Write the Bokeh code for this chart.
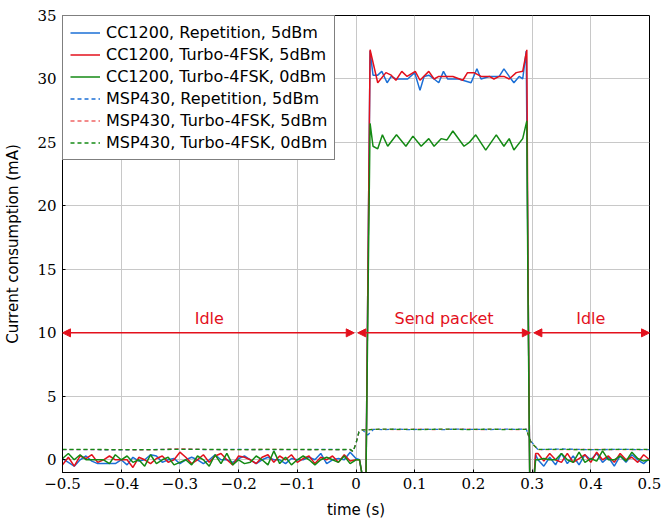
from bokeh.plotting import figure
from bokeh.models import (Range1d, FixedTicker, Legend, LegendItem, Arrow, NormalHead,
                          ColumnDataSource)
from bokeh.core.properties import value
from bokeh.embed import file_html
from bokeh.resources import INLINE

# ---------------- data ----------------
# idle time grids
t_idle_left = [-0.50, -0.49, -0.48, -0.47, -0.46, -0.45, -0.44, -0.43, -0.42, -0.41,
               -0.40, -0.39, -0.38, -0.37, -0.36, -0.35, -0.34, -0.33, -0.32, -0.31,
               -0.30, -0.29, -0.28, -0.27, -0.26, -0.25, -0.24, -0.23, -0.22, -0.21,
               -0.20, -0.19, -0.18, -0.17, -0.16, -0.15, -0.14, -0.13, -0.12, -0.11,
               -0.10, -0.09, -0.08, -0.07, -0.06, -0.05, -0.04, -0.03, -0.02, -0.01,
               0.00]
t_idle_right = [0.31, 0.32, 0.33, 0.34, 0.35, 0.36, 0.37, 0.38, 0.39, 0.40,
                0.41, 0.42, 0.43, 0.44, 0.45, 0.46, 0.47, 0.48, 0.49, 0.50]
t_rise = [0.006, 0.012, 0.017, 0.021]
t_fall = [0.293, 0.296, 0.303, 0.306]

# CC1200, Repetition, 5dBm (blue)
blue_idle_left = [0.1, -0.2, -0.5, 0.0, 0.3, -0.1, -0.3, -0.3, -0.3, -0.3,
                  0.0, -0.4, 0.2, -0.1, 0.0, 0.4, 0.3, -0.2, 0.0, 0.1,
                  -0.3, 0.0, 0.2, 0.0, -0.3, 0.0, 0.4, 0.0, 0.0, -0.2,
                  0.1, 0.3, 0.0, -0.3, 0.0, 0.2, 0.0, 0.0, -0.3, 0.1,
                  0.0, 0.0, 0.2, 0.0, 0.5, -0.3, 0.0, 0.1, 0.0, 0.6,
                  0.1]
blue_rise = [0.0, -1.6, -1.6, 18.0]
blue_top_t = [0.024, 0.029, 0.037, 0.044, 0.053, 0.060, 0.068, 0.088, 0.100, 0.109,
              0.116, 0.124, 0.133, 0.141, 0.149, 0.156, 0.175, 0.196, 0.206, 0.213,
              0.227, 0.244, 0.252, 0.261, 0.269, 0.278, 0.284, 0.290]
blue_top = [32.2, 30.3, 30.3, 30.6, 29.7, 30.2, 30.0, 30.0, 30.5, 29.1,
            30.2, 30.3, 30.0, 29.7, 30.6, 30.0, 30.0, 29.7, 30.8, 30.0,
            30.2, 30.2, 30.8, 30.2, 29.7, 30.2, 30.0, 32.2]
blue_fall = [15.0, -1.6, -1.6, 0.4]
blue_idle_right = [0.0, -0.5, 0.2, -0.4, 0.5, -0.3, 0.3, -0.4, 0.4, 0.0,
                   0.5, -0.2, 0.2, -0.5, 0.3, -0.2, 0.4, 0.0, -0.3, 0.1]

# CC1200, Turbo-4FSK, 5dBm (red)
red_idle_left = [-0.4, 0.2, -0.5, 0.3, 0.1, 0.4, -0.2, 0.0, 0.3, 0.0,
                 0.0, 0.0, -0.6, 0.2, 0.0, -0.3, 0.1, 0.3, -0.2, 0.0,
                 0.6, 0.2, -0.3, 0.0, 0.4, -0.2, 0.3, 0.5, 0.0, -0.4,
                 0.3, 0.2, 0.0, -0.3, 0.2, 0.4, -0.2, 0.3, 0.0, 0.4,
                 -0.2, 0.1, 0.3, -0.3, 0.2, 0.0, 0.3, -0.2, 0.4, -0.1,
                 0.0]
red_rise = [0.0, -1.6, -1.6, 18.0]
red_top_t = [0.024, 0.037, 0.051, 0.060, 0.068, 0.078, 0.087, 0.101, 0.109, 0.124,
             0.133, 0.141, 0.165, 0.182, 0.190, 0.201, 0.213, 0.227, 0.235, 0.244,
             0.252, 0.261, 0.273, 0.284, 0.291]
red_top = [32.3, 29.7, 30.5, 30.3, 29.9, 30.6, 30.2, 30.6, 29.9, 30.6,
           30.0, 30.2, 30.2, 29.9, 30.5, 30.5, 30.2, 30.2, 30.0, 30.2,
           30.2, 30.0, 30.5, 30.6, 32.3]
red_fall = [15.0, -1.6, -1.6, 0.5]
red_idle_right = [0.5, -0.1, 0.5, 0.0, -0.2, 0.5, -0.2, 0.1, 0.4, -0.2,
                  0.6, 0.0, 0.3, -0.2, 0.5, 0.0, 0.2, -0.2, 0.4, 0.0]

# CC1200, Turbo-4FSK, 0dBm (green)
green_idle_left = [0.1, 0.5, 0.0, 0.4, 0.0, 0.0, 0.0, 0.0, -0.3, 0.4,
                   0.0, 0.3, -0.2, 0.0, -0.5, 0.4, -0.3, 0.0, 0.2, -0.4,
                   -0.2, 0.0, -0.4, 0.3, 0.0, -0.5, 0.4, -0.3, 0.5, -0.4,
                   0.0, -0.3, -0.2, 0.3, 0.0, -0.4, 0.7, -0.3, 0.2, -0.4,
                   0.0, 0.3, 0.0, -0.4, 0.0, 0.2, 0.0, -0.2, 0.3, -0.3,
                   0.0]
green_rise = [0.0, -1.6, -1.6, 15.0]
green_top_t = [0.024, 0.029, 0.037, 0.045, 0.054, 0.069, 0.085, 0.097, 0.111, 0.124,
               0.133, 0.145, 0.155, 0.165, 0.184, 0.193, 0.204, 0.221, 0.239, 0.252,
               0.261, 0.269, 0.284, 0.291]
green_top = [26.5, 24.7, 24.5, 25.6, 24.7, 25.6, 24.7, 25.5, 24.7, 25.3,
             24.7, 25.3, 25.2, 25.9, 24.7, 25.0, 25.6, 24.4, 25.6, 24.7,
             25.3, 24.4, 25.3, 26.7]
green_fall = [13.0, -1.6, -1.6, 0.0]
green_idle_right = [0.0, 0.1, 0.0, 0.0, 0.5, 0.0, -0.2, 0.6, -0.2, 0.1,
                    -0.1, 0.7, 0.0, 0.0, 0.3, -0.1, 0.6, 0.1, -0.1, 0.0]

# MSP430 series (dashed)
t_msp = [-0.50, -0.45, -0.40, -0.35, -0.30, -0.25, -0.20, -0.15, -0.10, -0.05,
         -0.01, -0.005, 0.0, 0.005, 0.011, 0.02, 0.03, 0.05, 0.07, 0.09,
         0.11, 0.13, 0.15, 0.17, 0.19, 0.21, 0.23, 0.25, 0.27, 0.29,
         0.298, 0.303, 0.31, 0.35, 0.40, 0.45, 0.50]
msp_rep_5 = [0.80, 0.80, 0.78, 0.80, 0.85, 0.80, 0.82, 0.80, 0.80, 0.82,
             0.80, 0.65, 1.30, 2.20, 2.36, 1.95, 2.40, 2.38, 2.42, 2.38,
             2.40, 2.40, 2.38, 2.42, 2.40, 2.40, 2.38, 2.42, 2.40, 2.42,
             1.45, 1.20, 0.80, 0.85, 0.80, 0.82, 0.80]
msp_turbo_5 = [0.80, 0.80, 0.80, 0.78, 0.88, 0.80, 0.80, 0.82, 0.80, 0.80,
               0.80, 0.65, 1.30, 2.20, 2.36, 2.38, 2.40, 2.40, 2.38, 2.40,
               2.42, 2.38, 2.40, 2.40, 2.42, 2.38, 2.40, 2.40, 2.38, 2.40,
               1.40, 1.15, 0.80, 0.80, 0.82, 0.80, 0.80]
msp_turbo_0 = [0.82, 0.82, 0.80, 0.80, 0.82, 0.82, 0.80, 0.82, 0.82, 0.80,
               0.82, 0.65, 1.30, 2.20, 2.36, 2.36, 2.40, 2.42, 2.40, 2.40,
               2.38, 2.40, 2.42, 2.40, 2.38, 2.40, 2.42, 2.38, 2.40, 2.40,
               1.40, 1.15, 0.82, 0.82, 0.80, 0.82, 0.82]

# phase annotations
phase_start = [-0.5, 0.003, 0.303]
phase_end = [-0.003, 0.297, 0.5]
phase_level = [10, 10, 10]
phase_label_x = [-0.25, 0.15, 0.40]
phase_labels = ["Idle", "Send packet", "Idle"]

x_ticks = [-0.5, -0.4, -0.3, -0.2, -0.1, 0.0, 0.1, 0.2, 0.3, 0.4, 0.5]
x_tick_labels = ["\u22120.5", "\u22120.4", "\u22120.3", "\u22120.2", "\u22120.1",
                 "0", "0.1", "0.2", "0.3", "0.4", "0.5"]
y_ticks = [0, 5, 10, 15, 20, 25, 30, 35]

# ---------------- figure ----------------
SANS = "DejaVu Sans"
SERIF = "DejaVu Serif"

p = figure(width=662, height=521, output_backend="svg", toolbar_location=None,
           x_range=Range1d(-0.5, 0.5), y_range=Range1d(-1, 35),
           min_border_left=62, min_border_right=13, min_border_top=15, min_border_bottom=49)
p.outline_line_color = "black"
p.outline_line_width = 1
p.background_fill_color = "white"

for ax in (p.xaxis[0], p.yaxis[0]):
    ax.axis_line_color = "black"
    ax.major_tick_line_color = "black"
    ax.major_tick_in = 3
    ax.major_tick_out = 0
    ax.minor_tick_in = 0
    ax.minor_tick_out = 0
    ax.major_label_text_font = SERIF
    ax.major_label_text_font_size = "15px"
    ax.major_label_text_color = "black"
    ax.axis_label_text_font = SANS
    ax.axis_label_text_font_size = "15px"
    ax.axis_label_text_font_style = "normal"
    ax.axis_label_text_color = "black"

p.xaxis.ticker = FixedTicker(ticks=x_ticks)
p.xaxis.major_label_overrides = dict(zip(x_ticks, x_tick_labels))
p.yaxis.ticker = FixedTicker(ticks=y_ticks)
p.xaxis.axis_label = "time (s)"
p.yaxis.axis_label = "Current consumption (mA)"
p.xaxis.major_label_standoff = 5
p.yaxis.major_label_standoff = 6
p.xaxis.axis_label_standoff = 9
p.yaxis.axis_label_standoff = 12

p.xgrid.grid_line_color = "#c8c8c8"
p.ygrid.grid_line_color = "#c8c8c8"
p.xgrid.grid_line_width = 1
p.ygrid.grid_line_width = 1

BLUE = "#1b6fd6"
RED = "#e3101c"
GREEN = "#148a14"

def cat(*parts):
    out = []
    for part in parts:
        out.extend(part)
    return out

t_blue = cat(t_idle_left, t_rise, blue_top_t, t_fall, t_idle_right)
y_blue = cat(blue_idle_left, blue_rise, blue_top, blue_fall, blue_idle_right)
t_red = cat(t_idle_left, t_rise, red_top_t, t_fall, t_idle_right)
y_red = cat(red_idle_left, red_rise, red_top, red_fall, red_idle_right)
t_green = cat(t_idle_left, t_rise, green_top_t, t_fall, t_idle_right)
y_green = cat(green_idle_left, green_rise, green_top, green_fall, green_idle_right)

r_mr5 = p.line(t_msp, msp_rep_5, line_color=BLUE, line_width=1.3, line_dash="4 3")
r_mt5 = p.line(t_msp, msp_turbo_5, line_color="#f06464", line_width=1.3, line_dash="4 3")
r_mt0 = p.line(t_msp, msp_turbo_0, line_color=GREEN, line_width=1.3, line_dash="4 3")
r_b = p.line(t_blue, y_blue, line_color=BLUE, line_width=1.5)
r_r = p.line(t_red, y_red, line_color=RED, line_width=1.5)
r_g = p.line(t_green, y_green, line_color=GREEN, line_width=1.5)

legend = Legend(items=[
    LegendItem(label="CC1200, Repetition, 5dBm", renderers=[r_b]),
    LegendItem(label="CC1200, Turbo-4FSK, 5dBm", renderers=[r_r]),
    LegendItem(label="CC1200, Turbo-4FSK, 0dBm", renderers=[r_g]),
    LegendItem(label="MSP430, Repetition, 5dBm", renderers=[r_mr5]),
    LegendItem(label="MSP430, Turbo-4FSK, 5dBm", renderers=[r_mt5]),
    LegendItem(label="MSP430, Turbo-4FSK, 0dBm", renderers=[r_mt0]),
], location="top_left")
legend.margin = 0
legend.padding = 7
legend.spacing = 3
legend.glyph_width = 30
legend.glyph_height = 19
legend.label_standoff = 6
legend.label_height = 19
legend.label_text_font = SANS
legend.label_text_font_size = "16px"
legend.label_text_color = "black"
legend.border_line_color = "black"
legend.border_line_width = 1
legend.background_fill_alpha = 1.0
p.add_layout(legend, "center")

arrow_src = ColumnDataSource(dict(x0=phase_start, x1=phase_end, y=phase_level))
p.add_layout(Arrow(source=arrow_src, x_start="x0", y_start="y", x_end="x1", y_end="y",
                   line_color=RED, line_width=1.5,
                   start=NormalHead(size=8, fill_color=RED, line_color=RED),
                   end=NormalHead(size=8, fill_color=RED, line_color=RED)))

label_src = ColumnDataSource(dict(x=phase_label_x, y=[v + 0.35 for v in phase_level], t=phase_labels))
p.text(x="x", y="y", text="t", source=label_src, text_color=RED, text_align="center",
       text_baseline="bottom", text_font=value(SANS), text_font_size="16px")

open("out.html", "w").write(file_html(p, INLINE))
